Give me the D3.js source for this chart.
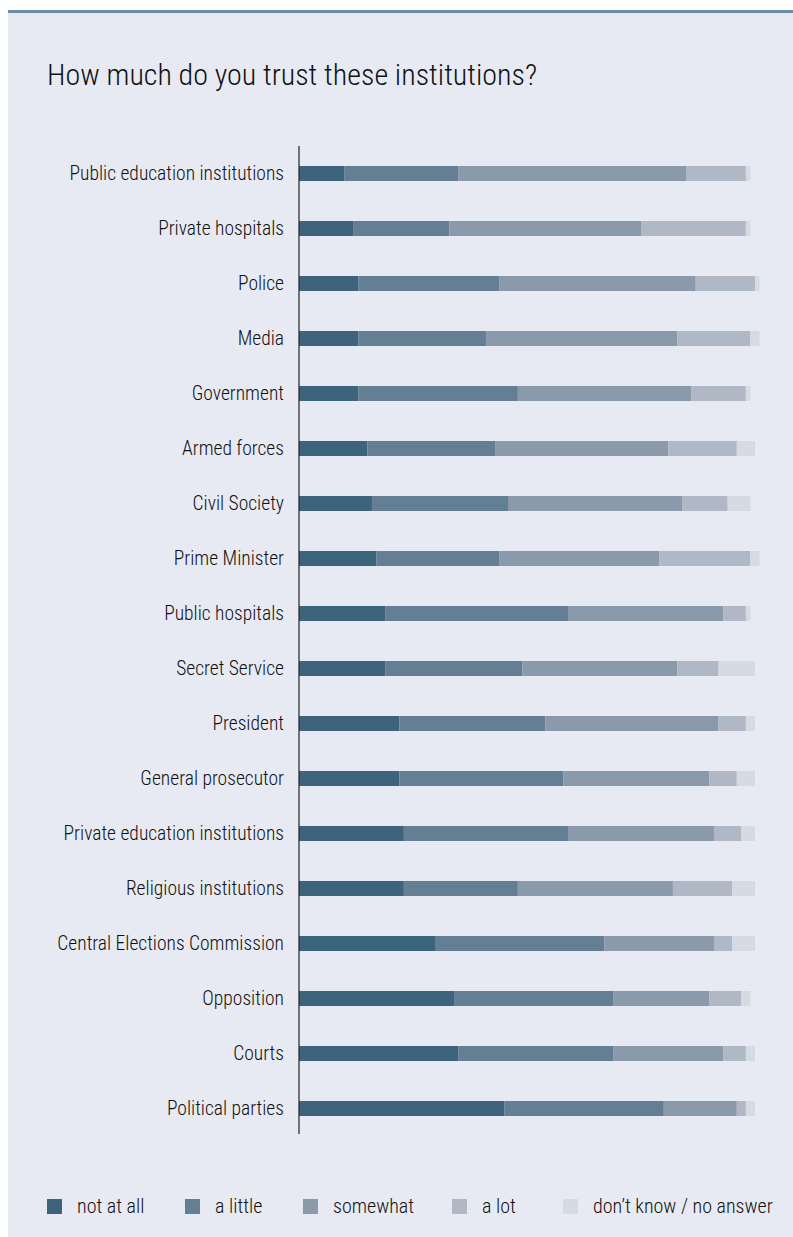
<!DOCTYPE html>
<html>
<head>
<meta charset="utf-8">
<script src="https://cdn.jsdelivr.net/npm/d3@7"></script>
<style>
  html, body { margin: 0; padding: 0; background: #ffffff; }
  svg { display: block; }
  text { font-family: "Roboto Condensed", "Liberation Sans Narrow", "DejaVu Sans Condensed", Roboto, sans-serif; font-weight: 300; fill: #111111; }
</style>
</head>
<body>
<script>
// Survey answers per institution, in percent
const institutions = [
  "Public education institutions", "Private hospitals", "Police", "Media",
  "Government", "Armed forces", "Civil Society", "Prime Minister",
  "Public hospitals", "Secret Service", "President", "General prosecutor",
  "Private education institutions", "Religious institutions",
  "Central Elections Commission", "Opposition", "Courts", "Political parties"
];
const answerKeys = ["not at all", "a little", "somewhat", "a lot", "don\u2019t know / no answer"];
const notAtAll  = [10, 12, 13, 13, 13, 15, 16, 17, 19, 19, 22, 22, 23, 23, 30, 34, 35, 45];
const aLittle   = [25, 21, 31, 28, 35, 28, 30, 27, 40, 30, 32, 36, 36, 25, 37, 35, 34, 35];
const somewhat  = [50, 42, 43, 42, 38, 38, 38, 35, 34, 34, 38, 32, 32, 34, 24, 21, 24, 16];
const aLot      = [13, 23, 13, 16, 12, 15, 10, 20, 5, 9, 6, 6, 6, 13, 4, 7, 5, 2];
const dontKnow  = [1, 1, 1, 2, 1, 4, 5, 2, 1, 8, 2, 4, 3, 5, 5, 2, 2, 2];
const xTicks = [0, 100];
const palette = ["#3d637d", "#647e93", "#8a9aab", "#b0b7c5", "#d6dae3"];

const W = 793, H = 1237;
const svg = d3.select("body").append("svg").attr("width", W).attr("height", H);

// panel background and top rule
svg.append("rect").attr("x", 8).attr("y", 11).attr("width", W - 8).attr("height", H - 11).attr("fill", "#e7eaf2");
svg.append("rect").attr("x", 8).attr("y", 10).attr("width", W - 8).attr("height", 3).attr("fill", "#6a8dab");

svg.append("text").attr("x", 47).attr("y", 85)
  .style("font-size", "30px").text("How much do you trust these institutions?");

const rows = institutions.map((name, i) => ({
  name,
  "not at all": notAtAll[i],
  "a little": aLittle[i],
  "somewhat": somewhat[i],
  "a lot": aLot[i],
  "don\u2019t know / no answer": dontKnow[i]
}));

const x = d3.scaleLinear().domain(xTicks).range([299, 755]);
const y = d3.scaleBand().domain(institutions).range([146, 1136])
  .paddingInner(40 / 55).paddingOuter(20 / 55);
const color = d3.scaleOrdinal().domain(answerKeys).range(palette);

const stacked = d3.stack().keys(answerKeys)(rows);

svg.append("g").selectAll("g").data(stacked).join("g")
  .attr("fill", d => color(d.key))
  .selectAll("rect").data(d => d).join("rect")
  .attr("x", d => x(d[0]))
  .attr("y", d => y(d.data.name))
  .attr("width", d => x(d[1]) - x(d[0]))
  .attr("height", y.bandwidth());

// category axis
const yAxis = svg.append("g").attr("transform", "translate(299,0)")
  .call(d3.axisLeft(y).tickSize(0).tickPadding(15));
yAxis.select(".domain").attr("d", "M0,146V1134").attr("stroke", "#222").attr("stroke-width", 1.2);
yAxis.selectAll("text").style("font-size", "19.5px").style("font-family", null).attr("fill", "#111111").attr("dy", "0.35em");

// legend
const legendX = [47, 185, 303, 452, 563];
const lg = svg.append("g").selectAll("g").data(answerKeys).join("g")
  .attr("transform", (d, i) => `translate(${legendX[i]},1199)`);
lg.append("rect").attr("width", 15).attr("height", 15).attr("fill", d => color(d));
lg.append("text").attr("x", 30).attr("y", 14).style("font-size", "20px").text(d => d);
</script>
</body>
</html>
